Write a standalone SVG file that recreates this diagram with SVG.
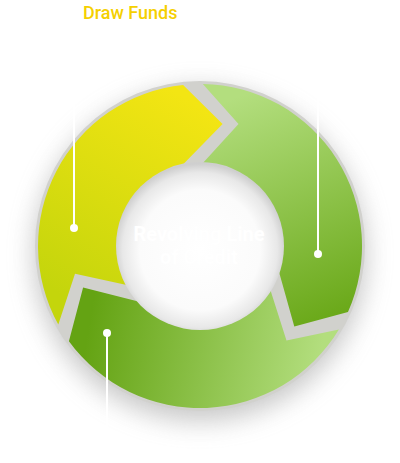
<svg xmlns="http://www.w3.org/2000/svg" width="400" height="463" viewBox="0 0 400 463">
<defs>
<style>
.lbl{font-family:Roboto,"Liberation Sans",sans-serif;font-weight:500;font-size:18px}
.wt{fill:#ffffff}
.ctr{font-family:Roboto,"Liberation Sans",sans-serif;font-weight:700;font-size:20px;fill:#ffffff;text-anchor:middle}
.lead{stroke:#ffffff;stroke-width:2;fill:none}
.dot{fill:#ffffff}
</style>
<filter id="blur" x="-30%" y="-30%" width="160%" height="160%"><feGaussianBlur stdDeviation="13"/></filter>
<linearGradient id="gY" gradientUnits="userSpaceOnUse" x1="190" y1="100" x2="70" y2="300"><stop offset="0" stop-color="#f3e513"/><stop offset="1" stop-color="#c4d50c"/></linearGradient>
<linearGradient id="gR" gradientUnits="userSpaceOnUse" x1="230" y1="100" x2="320" y2="330"><stop offset="0" stop-color="#b3de7e"/><stop offset="1" stop-color="#68a716"/></linearGradient>
<linearGradient id="gB" gradientUnits="userSpaceOnUse" x1="90" y1="320" x2="320" y2="360"><stop offset="0" stop-color="#64a313"/><stop offset="1" stop-color="#b3de7e"/></linearGradient>
<radialGradient id="gC" cx="200" cy="250" r="86" gradientUnits="userSpaceOnUse"><stop offset="0" stop-color="#ffffff"/><stop offset="0.7" stop-color="#fbfbfb"/><stop offset="0.9" stop-color="#e8e8e8"/><stop offset="1" stop-color="#cfcfcf"/></radialGradient>
</defs>
<rect width="400" height="463" fill="#ffffff"/>
<circle cx="200" cy="255" r="166" fill="#9a9a9a" opacity="0.55" filter="url(#blur)"/>
<path d="M35,246 A165,165 0 1 0 365,246 A165,165 0 1 0 35,246 Z M120,246 A80,80 0 1 1 280,246 A80,80 0 1 1 120,246 Z" fill="#d1d1cd" fill-rule="evenodd"/>
<g id="draw-funds">
<path d="M58.3,324.5 A162,162 0 0 1 183.1,84.9 L222.6,124.1 L182.7,164.8 A83,83 0 0 0 126.7,285.0 L75.0,273.7 Z" fill="url(#gY)"/>
<text class="lbl" x="83" y="18.5" fill="#f5d000">Draw Funds</text>
</g>
<g id="repay-funds">
<path d="M202.8,84.0 A162,162 0 0 1 348.0,311.9 L294.3,326.5 L278.9,271.6 A83,83 0 0 0 202.9,163.05 L238.5,123.9 Z" fill="url(#gR)"/>
<text class="lbl wt" x="309" y="61" text-anchor="end">Repay Funds</text>
</g>
<g id="pay-interest">
<path d="M338.9,329.4 A162,162 0 0 1 68.9,341.2 L83.1,287.4 L138.3,301.5 A83,83 0 0 0 270.4,290.0 L286.5,340.4 Z" fill="url(#gB)"/>
<text class="lbl wt" x="117" y="455">Pay Interest on money</text>
</g>
<g id="center">
<circle cx="200" cy="246" r="84" fill="url(#gC)"/>
<text class="ctr" x="199" y="241">Revolving Line</text>
<text class="ctr" x="199" y="264">of Credit</text>
</g>
<g id="connectors">
<line class="lead" x1="74" y1="0" x2="74" y2="228"/>
<circle class="dot" cx="74" cy="228" r="4"/>
<line class="lead" x1="318" y1="40" x2="318" y2="254"/>
<circle class="dot" cx="318" cy="254" r="4"/>
<line class="lead" x1="107" y1="333" x2="107" y2="463"/>
<circle class="dot" cx="107" cy="333" r="4"/>
</g>
</svg>
